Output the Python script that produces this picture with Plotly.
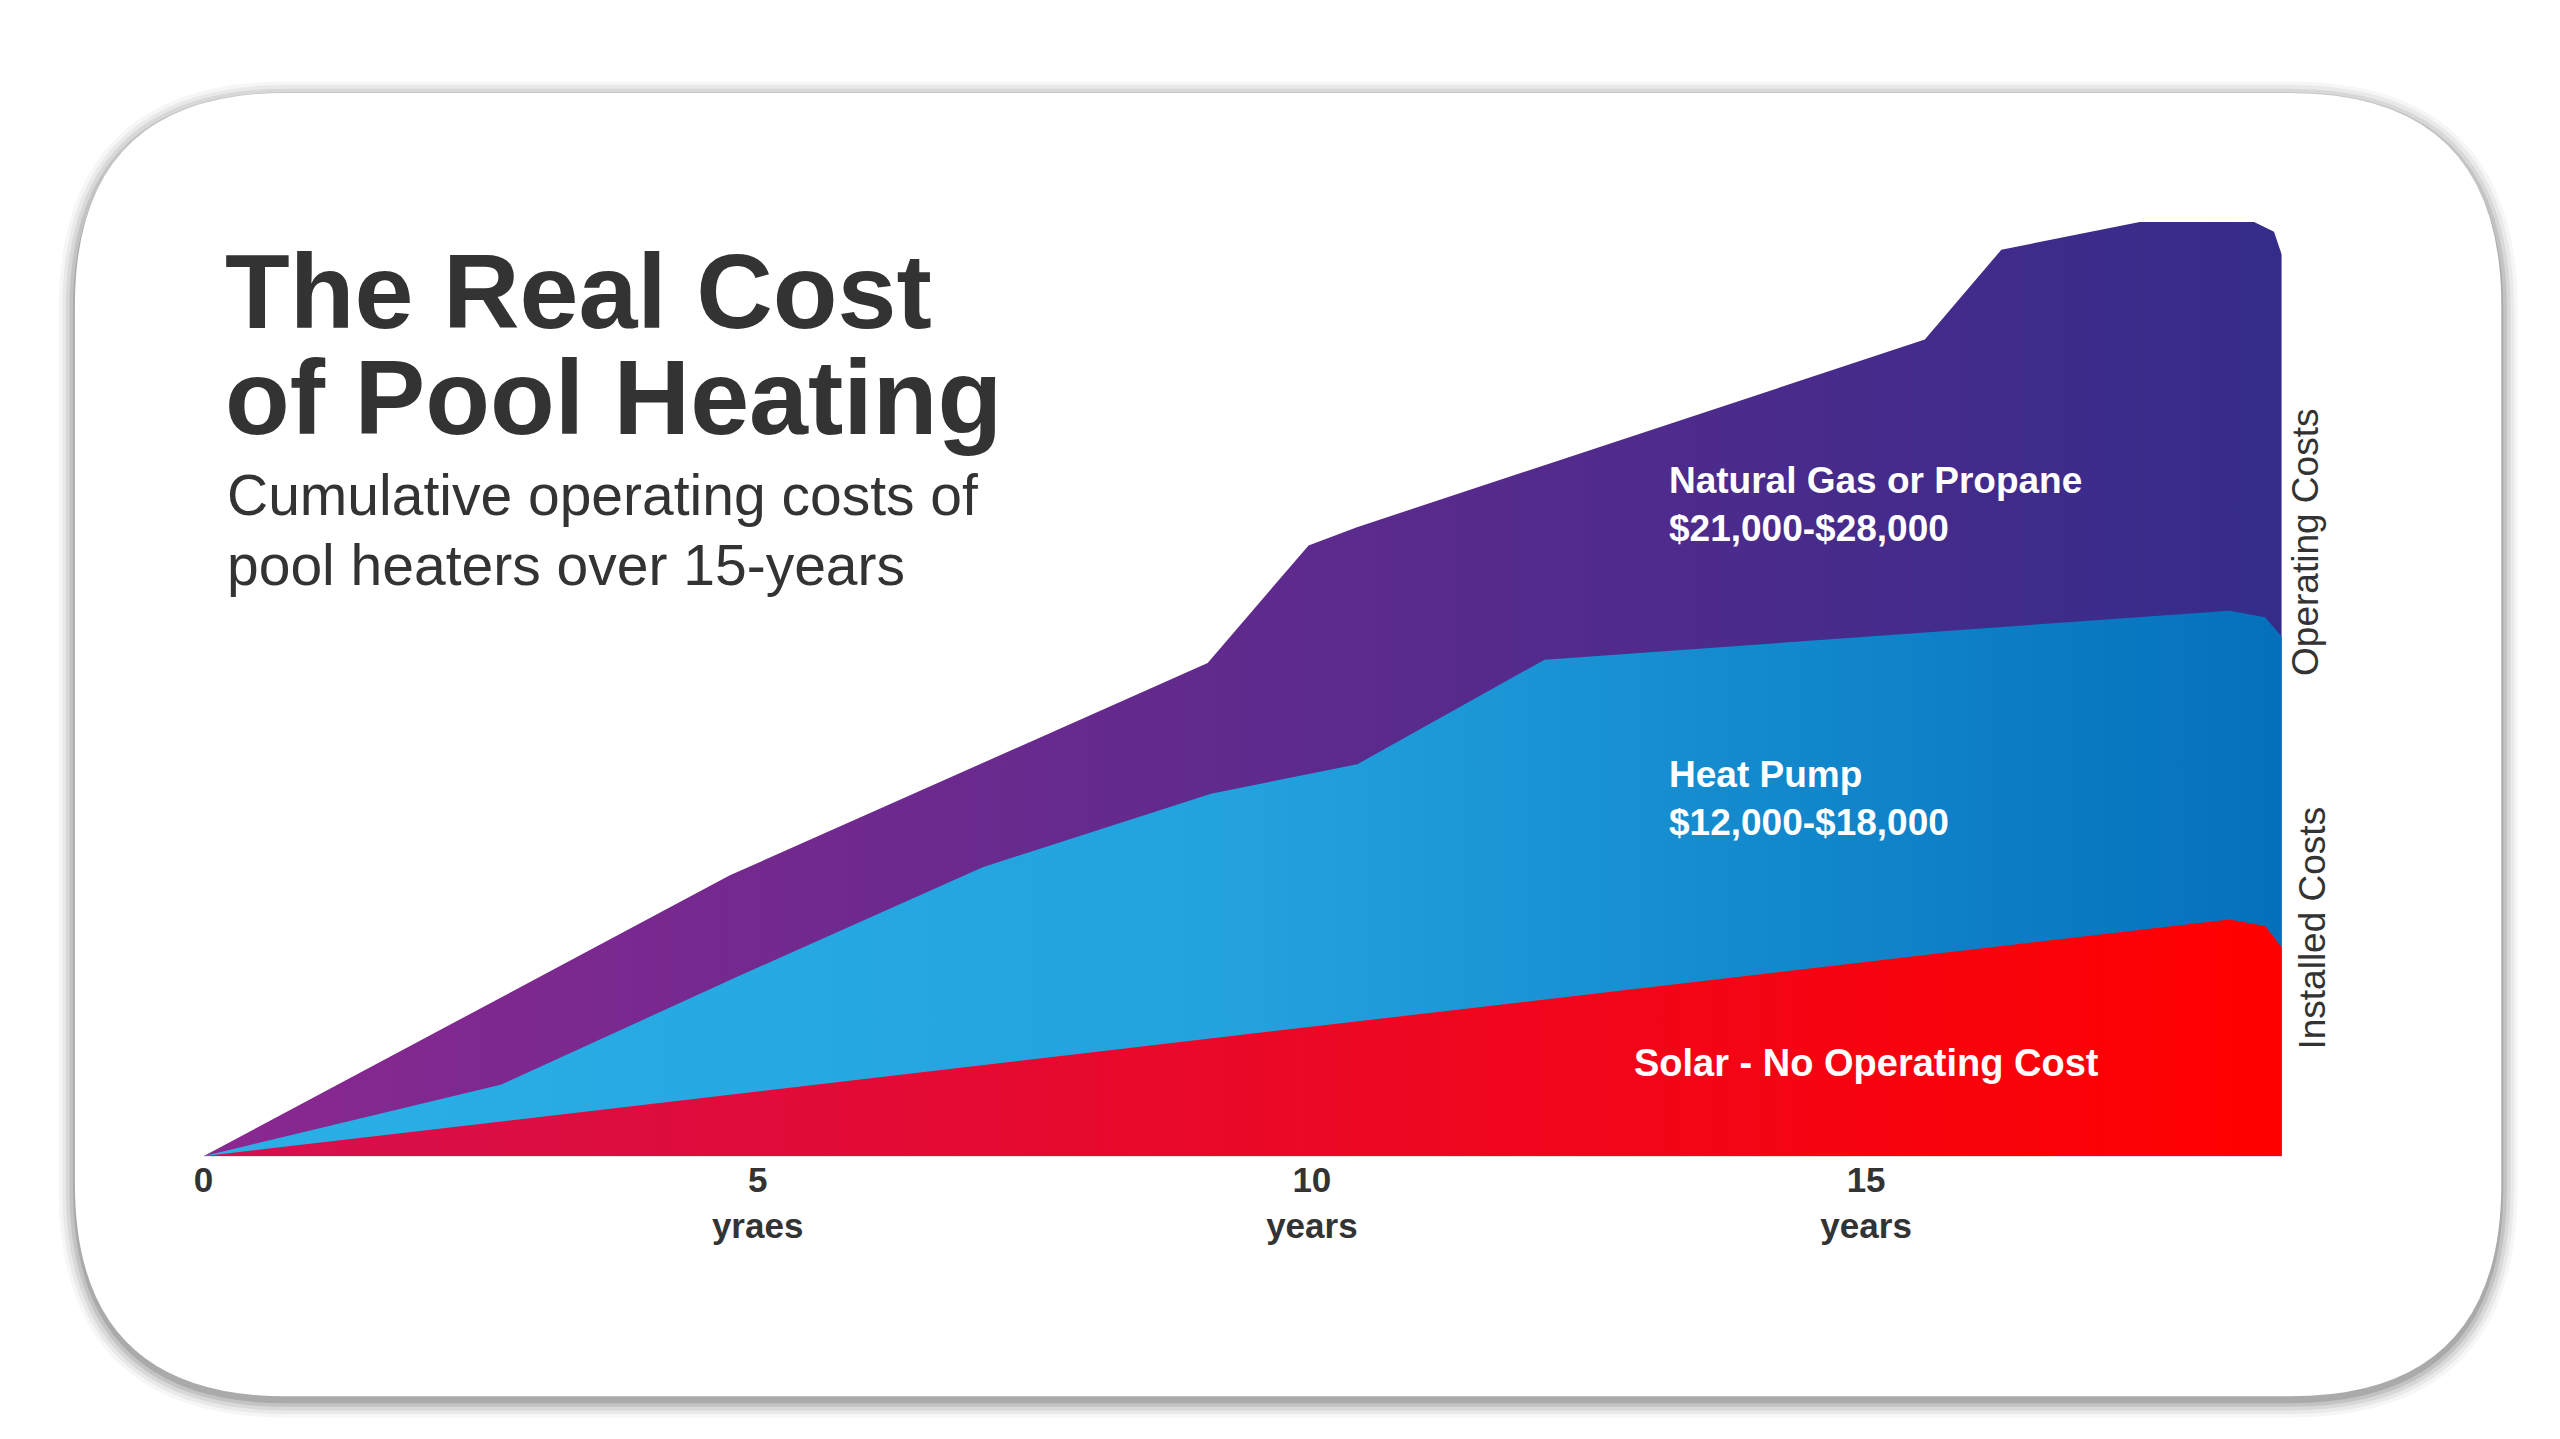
import plotly.graph_objects as go

# years on x, cumulative cost (relative units) on y
gas_x = [0, 4.75, 9.06, 9.97, 10.4, 15.53, 16.22, 17.47, 18.5, 18.68, 18.75]
gas_y = [0, 172, 302, 374, 385, 500, 555, 572, 572, 566, 552]
pump_x = [0, 2.69, 4.82, 7.03, 9.09, 10.41, 12.1, 18.28, 18.6, 18.75]
pump_y = [0, 44, 110, 177, 222, 240, 304, 334, 330, 318]
solar_x = [0, 18.28, 18.6, 18.75]
solar_y = [0, 145, 141, 128]

tick_vals = [0, 5, 10, 15]
tick_text = ["0", "5<br>yraes", "10<br>years", "15<br>years"]

W, H = 2560, 1439
S = W / 1568  # scale from design px
FONT = "Liberation Sans"

fig = go.Figure()

fig.add_trace(go.Scatter(
    x=gas_x, y=gas_y, mode="lines", line=dict(width=0), fill="tozeroy",
    fillgradient=dict(type="horizontal",
                      colorscale=[[0, "#8a2890"], [1, "#352c8a"]]),
    hoverinfo="skip"))
fig.add_trace(go.Scatter(
    x=pump_x, y=pump_y, mode="lines", line=dict(width=0), fill="tozeroy",
    fillgradient=dict(type="horizontal",
                      colorscale=[[0, "#2ab0e6"], [0.5, "#23a2de"], [1, "#0470bc"]]),
    hoverinfo="skip"))
fig.add_trace(go.Scatter(
    x=solar_x, y=solar_y, mode="lines", line=dict(width=0), fill="tozeroy",
    fillgradient=dict(type="horizontal",
                      colorscale=[[0, "#d5104f"], [1, "#ff0000"]]),
    hoverinfo="skip"))


def px_x(v):
    return v / 1568


def px_y(v):
    return 1 - v / 881


def rounded(x0, y0, x1, y1, r):
    rx, ry = r / 1568, r / 881
    a, b, c, d = px_x(x0), px_y(y0), px_x(x1), px_y(y1)
    return (f"M {a+rx},{b} L {c-rx},{b} Q {c},{b} {c},{b-ry} "
            f"L {c},{d+ry} Q {c},{d} {c-rx},{d} L {a+rx},{d} "
            f"Q {a},{d} {a},{d+ry} L {a},{b-ry} Q {a},{b} {a+rx},{b} Z")


shapes = []
for i, op in enumerate([0.05, 0.07, 0.10, 0.14, 0.20]):
    g = 10 - i * 2.2
    shapes.append(dict(type="path", xref="paper", yref="paper", layer="below",
                       path=rounded(35 - g, 52 - g + 3, 1527 + g, 850 + g + 3, 130 + g),
                       fillcolor=f"rgba(70,70,70,{op})", line=dict(width=0)))
shapes.append(dict(type="path", xref="paper", yref="paper", layer="below",
                   path=rounded(35, 52, 1527, 850, 130),
                   fillcolor="white", line=dict(width=0)))

DARK = "#333333"
annotations = [
    dict(text="<b>The Real Cost</b>", x=px_x(126), y=px_y(173)),
    dict(text="<b>of Pool Heating</b>", x=px_x(126), y=px_y(238)),
    dict(text="Cumulative operating costs of", x=px_x(127), y=px_y(298)),
    dict(text="pool heaters over 15-years", x=px_x(127), y=px_y(341)),
]
sizes = [65, 65, 35, 35]
for a, s in zip(annotations, sizes):
    a.update(xref="paper", yref="paper", xanchor="left", yanchor="middle",
             showarrow=False, font=dict(family=FONT, size=int(s * S), color=DARK))

annotations += [
    dict(text="<b>Natural Gas or Propane<br>$21,000-$28,000</b>", x=13.2, y=399,
         xanchor="left", yanchor="middle", align="left", showarrow=False,
         font=dict(family=FONT, size=int(23 * S), color="white")),
    dict(text="<b>Heat Pump<br>$12,000-$18,000</b>", x=13.2, y=219,
         xanchor="left", yanchor="middle", align="left", showarrow=False,
         font=dict(family=FONT, size=int(23 * S), color="white")),
    dict(text="<b>Solar - No Operating Cost</b>", x=15.0, y=57,
         xanchor="center", yanchor="middle", showarrow=False,
         font=dict(family=FONT, size=int(23.5 * S), color="white")),
    dict(text="Operating Costs", x=px_x(1420), y=px_y(327), textangle=-90,
         xref="paper", yref="paper", showarrow=False,
         font=dict(family=FONT, size=int(23 * S), color=DARK)),
    dict(text="Installed Costs", x=px_x(1425), y=px_y(563), textangle=-90,
         xref="paper", yref="paper", showarrow=False,
         font=dict(family=FONT, size=int(23 * S), color=DARK)),
]

fig.update_layout(
    width=W, height=H, margin=dict(l=0, r=0, t=0, b=0),
    paper_bgcolor="white", plot_bgcolor="rgba(0,0,0,0)",
    showlegend=False, shapes=shapes, annotations=annotations,
    xaxis=dict(domain=[px_x(114), px_x(1392)], range=[0, 18.75],
               tickvals=tick_vals, ticktext=["<b>" + t.replace("<br>", "</b><br><b>") + "</b>"
                                             for t in tick_text],
               showgrid=False, zeroline=False, showline=False, ticks="",
               tickfont=dict(family=FONT, size=int(22 * S), color=DARK)),
    yaxis=dict(domain=[px_y(703), px_y(131)], range=[0, 572], visible=False),
)

fig.write_html("out.html")
